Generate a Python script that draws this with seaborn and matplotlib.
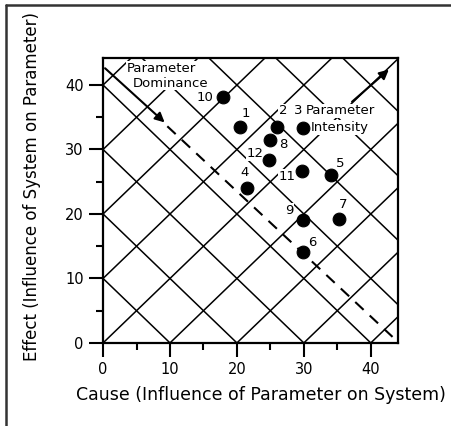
import matplotlib
matplotlib.use("Agg")
import matplotlib.pyplot as plt
import numpy as np
import pandas as pd
import seaborn as sns

# Parameter positions (cause, effect)
labels = ["1", "2", "3", "4", "5", "6", "7", "8", "9", "10", "11", "12"]
cause = [20.4, 26.0, 29.8, 21.5, 34.0, 29.8, 35.3, 24.9, 29.9, 17.9, 29.7, 24.8]
effect = [33.5, 33.5, 33.4, 24.1, 26.1, 14.1, 19.2, 31.5, 19.1, 38.1, 26.6, 28.3]

# where each number sits next to its dot
label_x = [21.4, 26.9, 29.2, 21.1, 35.4, 31.2, 35.8, 26.9, 27.8, 15.2, 27.5, 22.7]
label_y = [35.6, 36.0, 36.0, 26.4, 27.8, 15.5, 21.5, 30.7, 20.6, 38.1, 25.8, 29.4]

# dominance line (dashed part) and the two arrows
dominance_x = [9.6, 43.6]
dominance_y = [33.6, 0.6]
dominance_arrow = [(0.3, 42.6), (9.2, 34.2)]
intensity_arrow = [(37.2, 37.4), (42.7, 42.4)]

x_ticks = [0, 10, 20, 30, 40]
y_ticks = [0, 10, 20, 30, 40]

sns.set_style("white")
plt.rcParams["font.family"] = ["DejaVu Sans"]
plt.rcParams["text.color"] = "black"
plt.rcParams["axes.labelcolor"] = "black"
plt.rcParams["xtick.color"] = "black"
plt.rcParams["ytick.color"] = "black"

fig = plt.figure(figsize=(4.52, 4.26), dpi=100)
ax = fig.add_axes([0.228, 0.195, 0.653, 0.669])

# diagonal grid
for c in range(10, 90, 10):
    ax.axline((0, c), slope=-1, color="black", lw=1.1, zorder=1)
for c in range(-40, 50, 10):
    ax.axline((c, 0), slope=1, color="black", lw=1.1, zorder=1)

df = pd.DataFrame({"cause": cause, "effect": effect})
sns.scatterplot(data=df, x="cause", y="effect", ax=ax, color="black",
                s=85, edgecolor="black", zorder=5, legend=False)

line_df = pd.DataFrame({"x": dominance_x, "y": dominance_y})
sns.lineplot(data=line_df, x="x", y="y", ax=ax, color="black", lw=1.5,
             linestyle=(0, (5.5, 4)), zorder=3)

ax.annotate("", xy=dominance_arrow[1], xytext=dominance_arrow[0],
            arrowprops=dict(arrowstyle="-|>", color="black", lw=1.5,
                            mutation_scale=14, shrinkA=0, shrinkB=0), zorder=4)
ax.annotate("", xy=intensity_arrow[1], xytext=intensity_arrow[0],
            arrowprops=dict(arrowstyle="-|>", color="black", lw=1.5,
                            mutation_scale=14, shrinkA=0, shrinkB=0), zorder=4)

box = dict(fc="white", ec="none", pad=0.6)
for lab, lx, ly in zip(labels, label_x, label_y):
    ax.text(lx, ly, lab, ha="center", va="center", fontsize=9.5, bbox=box, zorder=4)

ax.text(3.6, 42.6, "Parameter", ha="left", va="center", fontsize=9.5, bbox=box, zorder=4)
ax.text(4.4, 40.3, "Dominance", ha="left", va="center", fontsize=9.5, bbox=box, zorder=4)
ax.text(30.3, 36.0, "Parameter", ha="left", va="center", fontsize=9.5, bbox=box, zorder=4)
ax.text(31.1, 33.4, "Intensity", ha="left", va="center", fontsize=9.5, bbox=box, zorder=4)

ax.set_xlim(0, 44.1)
ax.set_ylim(0, 44.2)
ax.set_xticks(x_ticks)
ax.set_yticks(y_ticks)
ax.set_xticks([5, 15, 25, 35], minor=True)
ax.set_yticks([5, 15, 25, 35], minor=True)
ax.tick_params(which="major", direction="out", length=10, width=1.5,
               labelsize=10.5, pad=4, colors="black", bottom=True, left=True)
ax.tick_params(which="minor", direction="out", length=5, width=1.5,
               bottom=True, left=True)
for sp in ax.spines.values():
    sp.set_color("black")
    sp.set_linewidth(1.6)

ax.set_xlabel("Cause (Influence of Parameter on System)", fontsize=12.5, va="center")
ax.set_ylabel("Effect (Influence of System on Parameter)", fontsize=12, va="center")
ax.xaxis.set_label_coords(0.535, -0.182)
ax.yaxis.set_label_coords(-0.241, 0.549)

# page frame (top and left edges only)
fig.add_artist(plt.Line2D([6 / 452, 6 / 452], [0, 1 - 5 / 426],
                          transform=fig.transFigure, color="#333333", lw=1.8))
fig.add_artist(plt.Line2D([6 / 452, 1], [1 - 5 / 426, 1 - 5 / 426],
                          transform=fig.transFigure, color="#333333", lw=1.8))

fig.savefig("out.png", dpi=100)
